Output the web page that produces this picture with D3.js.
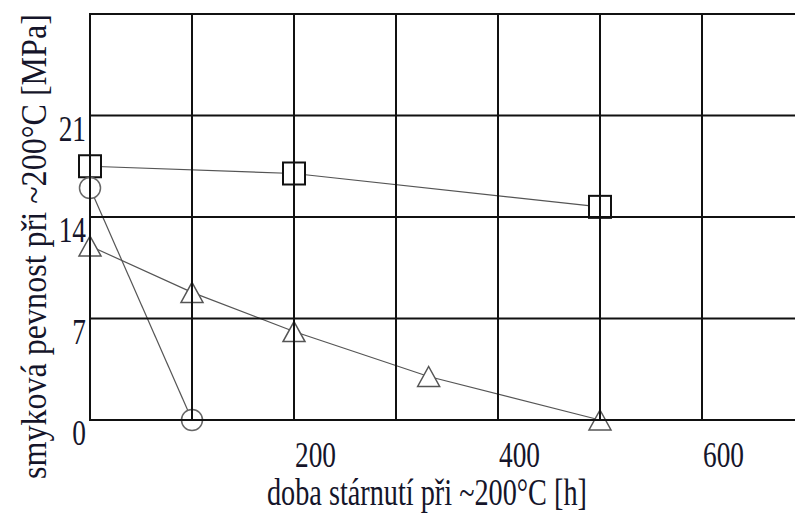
<!DOCTYPE html>
<html>
<head>
<meta charset="utf-8">
<script src="https://cdn.jsdelivr.net/npm/d3@7"></script>
<style>
  html, body { margin: 0; padding: 0; background: white; }
  svg { display: block; }
</style>
</head>
<body>
<svg id="chart" width="795" height="513"></svg>
<script>
// data (hours, MPa)
const squareHours = [0, 200, 500];
const squareValues = [17.5, 17.0, 14.7];
const circleHours = [0, 100];
const circleValues = [16.0, 0];
const triangleHours = [0, 100, 200, 332, 500];
const triangleValues = [12.0, 8.8, 6.1, 3.0, 0];

const xGrid = [0, 100, 200, 300, 400, 500, 600];
const yGrid = [0, 7, 14, 21, 28];
const xTickLabels = [200, 400, 600];
const yTickLabels = [0, 7, 14, 21];

const xTitle = "doba stárnutí při ~200°C [h]";
const yTitle = "smyková pevnost při ~200°C [MPa]";

const width = 795, height = 513;
const serif = "'Liberation Serif', 'Times New Roman', serif";
const textColor = "#15152a";
const x = d3.scaleLinear().domain([0, 600]).range([90, 702]);
const y = d3.scaleLinear().domain([0, 28]).range([420, 14]);

const svg = d3.select("#chart");
svg.append("rect").attr("width", width).attr("height", height).attr("fill", "white");

const zip = (xs, ys) => xs.map((h, i) => [h, ys[i]]);
const line = d3.line().x((d) => x(d[0])).y((d) => y(d[1]));

const series = [
  { pts: zip(squareHours, squareValues), shape: "square", color: "#111" },
  { pts: zip(circleHours, circleValues), shape: "circle", color: "#666" },
  { pts: zip(triangleHours, triangleValues), shape: "triangle", color: "#555" },
];

// connecting lines
series.forEach((s) => {
  svg.append("path")
    .datum(s.pts)
    .attr("d", line)
    .attr("fill", "none")
    .attr("stroke", "#555")
    .attr("stroke-width", 1.2);
});

// markers (white filled so the lines stop at their edges)
series.forEach((s) => {
  const g = svg.append("g");
  const sel = g.selectAll("g.m").data(s.pts).enter().append("g")
    .attr("class", "m")
    .attr("transform", (d) => `translate(${x(d[0])},${y(d[1])})`);
  if (s.shape === "square") {
    sel.append("rect")
      .attr("x", -11).attr("y", -11).attr("width", 22).attr("height", 22)
      .attr("fill", "white").attr("stroke", s.color).attr("stroke-width", 2);
  } else if (s.shape === "circle") {
    sel.append("circle")
      .attr("r", 10.5)
      .attr("fill", "white").attr("stroke", s.color).attr("stroke-width", 1.5);
  } else {
    sel.append("path")
      .attr("d", "M0,-10L11,10L-11,10Z")
      .attr("fill", "white").attr("stroke", s.color).attr("stroke-width", 1.5);
  }
});

// grid on top
const grid = svg.append("g").attr("stroke", "#111").attr("stroke-width", 2);
grid.selectAll("line.h").data(yGrid).enter().append("line")
  .attr("class", "h")
  .attr("x1", x(0) - 1).attr("x2", width)
  .attr("y1", (d) => y(d)).attr("y2", (d) => y(d));
grid.selectAll("line.v").data(xGrid).enter().append("line")
  .attr("class", "v")
  .attr("x1", (d) => x(d)).attr("x2", (d) => x(d))
  .attr("y1", y(28) - 1).attr("y2", y(0) + 1);

// tick labels (condensed serif)
svg.selectAll("text.xt").data(xTickLabels).enter().append("text")
  .attr("class", "xt")
  .attr("font-family", serif).attr("fill", textColor)
  .attr("font-size", 36)
  .attr("transform", (d) => `translate(${x(d) + 1},467) scale(0.76,1)`)
  .text((d) => d);

svg.selectAll("text.yt").data(yTickLabels).enter().append("text")
  .attr("class", "yt")
  .attr("font-family", serif).attr("fill", textColor)
  .attr("font-size", 36)
  .attr("text-anchor", "end")
  .attr("transform", (d) => `translate(86,${y(d) + 25}) scale(0.76,1)`)
  .text((d) => d);

// axis titles, squeezed horizontally to the reference's length
function squeezedText(str, size, target, place) {
  const t = svg.append("text")
    .attr("font-family", serif).attr("fill", textColor)
    .attr("font-size", size)
    .text(str);
  const natural = t.node().getComputedTextLength();
  t.attr("transform", `${place} scale(${target / natural},1)`);
  return t;
}

squeezedText(xTitle, 37, 320, "translate(267,505)");
squeezedText(yTitle, 35, 465, "translate(46,479) rotate(-90)");
</script>
</body>
</html>
